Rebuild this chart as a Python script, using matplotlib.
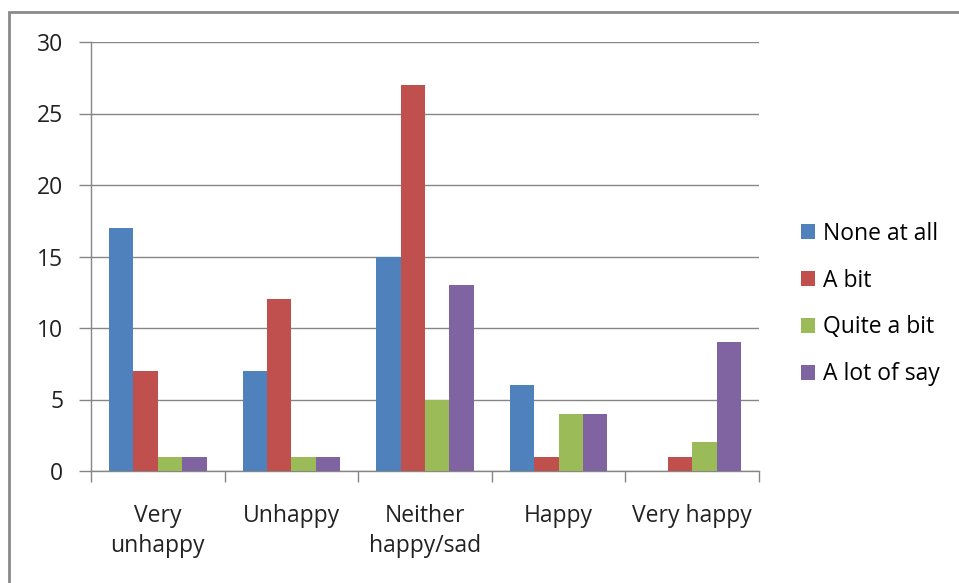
import matplotlib
matplotlib.use("Agg")
from matplotlib import pyplot as plt
from matplotlib.patches import Rectangle
import numpy as np

# Datos del grafico
categorias = ["Very\nunhappy", "Unhappy", "Neither\nhappy/sad", "Happy", "Very happy"]
series = ["None at all", "A bit", "Quite a bit", "A lot of say"]
none_at_all = [17, 7, 15, 6, 0]
a_bit = [7, 12, 27, 1, 1]
quite_a_bit = [1, 1, 5, 4, 2]
a_lot_of_say = [1, 1, 13, 4, 9]
y_ticks = [0, 5, 10, 15, 20, 25, 30]

colores = ["#4F81BD", "#C0504D", "#9BBB59", "#8064A2"]
gris = "#868686"

plt.rcParams['font.family'] = ['Open Sans', 'DejaVu Sans']
tam = 16.5

fig = plt.figure(figsize=(9.59, 5.83), dpi=100)
ax = fig.add_axes([91/959, 1 - 471/583, (759 - 91)/959, (471 - 42)/583])

x = np.arange(len(categorias))
ancho = 0.1825
valores = [none_at_all, a_bit, quite_a_bit, a_lot_of_say]
for i, (nombre, vals) in enumerate(zip(series, valores)):
    ax.bar(x + (i - 1.5) * ancho, vals, ancho, color=colores[i], label=nombre, zorder=3)

ax.set_xlim(-0.5, len(categorias) - 0.5)
ax.set_ylim(0, 30)
ax.set_yticks(y_ticks)
ax.yaxis.grid(True, color=gris, linewidth=1, zorder=0)

# ticks de categoria en los bordes
ax.set_xticks(x)
ax.set_xticklabels(categorias, fontsize=tam, color="#222222", linespacing=1.3)
ax.set_xticks(np.arange(len(categorias) + 1) - 0.5, minor=True)
ax.tick_params(axis='x', which='major', length=0, pad=24)
ax.tick_params(axis='x', which='minor', length=8, color=gris, width=1)
ax.tick_params(axis='y', length=9, color=gris, width=1, pad=11, labelsize=tam, labelcolor="#222222")

for lado in ["top", "right"]:
    ax.spines[lado].set_visible(False)
for lado in ["left", "bottom"]:
    ax.spines[lado].set_color(gris)
    ax.spines[lado].set_linewidth(1)

fig.legend(loc="center left", bbox_to_anchor=(792/959, 1 - 304/583), frameon=False,
           fontsize=tam, handlelength=0.6, handleheight=0.6, handletextpad=0.35,
           labelspacing=1.0, borderaxespad=0)

# borde del grafico
fig.add_artist(Rectangle((9/959, -0.1), 1.2, 1 - 12/583 + 0.1, transform=fig.transFigure,
                         fill=False, edgecolor="#8a8a8a", linewidth=2))

fig.savefig("out.png", dpi=100)
